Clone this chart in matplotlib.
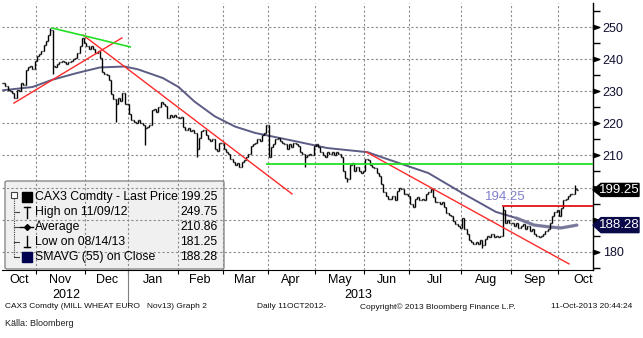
import numpy as np
import matplotlib.pyplot as plt
import matplotlib.transforms as mtransforms
from matplotlib.collections import LineCollection
from matplotlib.patches import Rectangle, Polygon, FancyBboxPatch
from matplotlib.lines import Line2D
from matplotlib.path import Path

plt.rcParams['font.family'] = ['Liberation Sans', 'DejaVu Sans']

W, H = 643, 338

# months on the axis and trading days in each (11 Oct 2012 - 11 Oct 2013)
month_names = ['Oct', 'Nov', 'Dec', 'Jan', 'Feb', 'Mar', 'Apr', 'May', 'Jun', 'Jul', 'Aug', 'Sep', 'Oct']
month_days = [15, 22, 19, 22, 20, 20, 21, 22, 20, 23, 22, 21, 9]
year_labels = ['2012', '2013']

# daily closes, EUR/t
close_oct12 = [232.5, 231.5, 230.5, 230.0, 229.5, 228.0, 230.5, 230.0, 232.5, 232.0,
               236.5, 237.5, 238.0, 237.0, 239.5]
close_nov12 = [241.0, 241.5, 242.5, 244.5, 245.5, 247.5, 249.0, 238.0, 237.5, 238.5,
               239.0, 239.5, 239.0, 238.5, 239.0, 239.5, 240.0, 240.5, 242.0, 244.0,
               246.5, 245.0]
close_dec12 = [244.0, 243.0, 244.0, 243.0, 242.0, 242.5, 240.5, 236.0, 235.5, 235.0,
               233.5, 229.0, 227.5, 226.0, 228.0, 227.0, 229.5, 226.0, 226.0]
close_jan13 = [223.0, 221.0, 220.5, 220.0, 221.0, 220.0, 219.5, 218.5, 219.0, 219.5,
               224.0, 224.5, 223.5, 225.0, 226.5, 226.0, 225.5, 221.5, 222.5, 222.0,
               222.5, 222.0]
close_feb13 = [221.5, 222.0, 219.0, 218.0, 218.5, 217.5, 218.0, 217.0, 212.0, 215.5,
               217.5, 218.0, 216.5, 215.0, 214.5, 215.0, 212.0, 211.5, 214.0, 214.0]
close_mar13 = [212.0, 211.0, 210.5, 209.0, 208.0, 207.0, 207.5, 206.5, 208.0, 208.5,
               209.5, 210.5, 213.0, 213.5, 214.0, 215.0, 214.5, 216.5, 217.0, 219.5]
close_apr13 = [209.5, 212.5, 213.5, 215.0, 215.5, 214.5, 214.0, 213.5, 212.0, 213.5,
               212.5, 214.0, 213.5, 213.0, 211.0, 210.5, 209.5, 210.0, 210.5, 210.0,
               213.0]
close_may13 = [213.5, 212.5, 211.0, 210.0, 209.5, 211.0, 210.5, 211.0, 210.0, 211.0,
               210.5, 209.5, 205.0, 203.0, 202.5, 207.0, 207.5, 205.0, 206.5, 205.0,
               204.5, 205.0]
close_jun13 = [209.0, 208.5, 207.0, 206.5, 206.0, 204.5, 203.5, 201.0, 198.5, 197.5,
               196.5, 196.5, 197.5, 196.0, 199.0, 200.0, 199.5, 198.0, 198.0, 197.5]
close_jul13 = [195.0, 194.0, 196.5, 197.0, 196.0, 196.5, 196.0, 198.0, 198.5, 199.5,
               197.0, 195.5, 195.5, 195.0, 195.5, 194.0, 192.0, 191.5, 191.0, 189.5,
               188.5, 188.0, 187.5]
close_aug13 = [190.5, 187.0, 185.5, 183.5, 183.0, 182.5, 183.0, 182.5, 183.5, 182.0,
               184.0, 185.0, 184.5, 185.5, 184.5, 185.0, 184.5, 185.0, 193.0, 189.0,
               190.0, 189.0]
close_sep13 = [189.0, 188.0, 189.0, 187.5, 188.0, 188.5, 187.0, 188.0, 186.5, 187.0,
               185.5, 185.0, 184.5, 185.0, 185.5, 186.5, 187.0, 189.0, 191.0, 192.5,
               193.0]
close_oct13 = [191.0, 193.5, 196.0, 196.5, 197.5, 198.0, 198.0, 199.5, 199.25]

closes = np.array(close_oct12 + close_nov12 + close_dec12 + close_jan13 + close_feb13
                  + close_mar13 + close_apr13 + close_may13 + close_jun13 + close_jul13
                  + close_aug13 + close_sep13 + close_oct13)

# intraday extremes that stick out of the open/close range
wick_day = [21, 22, 50, 63, 86, 134, 153, 213, 222, 254]
wick_val = [249.75, 235.5, 220.5, 213.2, 209.5, 206.4, 201.7, 181.25, 194.25, 200.8]

# 55-day simple moving average (trading day, value)
sma_day = [0, 13, 22, 33, 43, 54, 60, 71, 78, 85, 94, 103, 112, 121, 130, 144, 162,
           168, 176, 189, 204, 219, 228, 236, 243, 248, 255]
sma_val = [230.3, 231.3, 233.6, 235.7, 237.4, 237.7, 236.8, 234.1, 231.3, 226.8, 222.2,
           219.0, 217.0, 215.7, 214.4, 212.3, 211.0, 209.5, 207.6, 204.5, 198.3, 192.4,
           190.5, 188.3, 187.7, 187.4, 188.28]

# hand-drawn trend lines: (day0, value0, day1, value1)
red_trends = [(4.8, 226.3, 52.8, 246.6),
              (35.5, 247.5, 128.4, 198.0),
              (161.3, 211.1, 251.5, 176.2)]
green_trends = [(21.7, 249.7, 56.5, 243.8)]
support_start, support_level = 117.3, 207.25
resist_start, resist_level = 222.2, 194.25

last_price = 199.25
sma_last = 188.28
legend_rows = [('CAX3 Comdty - Last Price', '199.25'),
               ('High on 11/09/12', '249.75'),
               ('Average', '210.86'),
               ('Low on 08/14/13', '181.25'),
               ('SMAVG (55) on Close', '188.28')]

fig = plt.figure(figsize=(W / 100, H / 100), dpi=100)
ax = fig.add_axes([2 / W, 1 - 270 / H, 591 / W, 267 / H])
ax.set_facecolor('none')
ax.set_xlim(-0.5, -0.5 + 591 / 2.25)
ax.set_ylim(174.3, 257.48)


def px(x, y):
    return x / W, 1 - y / H


# month boundaries
bounds = np.cumsum(month_days)[:-1] - 0.5
starts = np.concatenate([[-0.5], bounds])
ends = np.concatenate([bounds, [bounds[-1] + 23]])
centers = (starts + ends) / 2

grid_kw = dict(color='#8c8c8c', lw=0.8, ls=(0, (2, 2)), zorder=1)
for b in bounds:
    ax.axvline(b, **grid_kw)
for v in range(180, 251, 10):
    ax.axhline(v, **grid_kw)

# OHLC-style bars
opens = np.concatenate([[closes[0]], closes[:-1]])
lo = np.minimum(opens, closes)
hi = np.maximum(opens, closes)
for d, v in zip(wick_day, wick_val):
    lo[d] = min(lo[d], v)
    hi[d] = max(hi[d], v)
idx = np.arange(len(closes))
segs = []
for i in idx:
    segs.append([(i, lo[i]), (i, hi[i])])
    segs.append([(i - 0.45, opens[i]), (i, opens[i])])
    segs.append([(i, closes[i]), (i + 0.45, closes[i])])
ax.add_collection(LineCollection(segs, colors='black', linewidths=1.0, zorder=4))

# moving average
ax.plot(sma_day, sma_val, color='#4a4a78', lw=1.4, alpha=0.9, zorder=3)
ax.plot(sma_day[-5:], sma_val[-5:], color='#7a7a9c', lw=2.4, alpha=0.85, zorder=3,
        solid_capstyle='round')

# trend lines
for d0, v0, d1, v1 in red_trends:
    ax.plot([d0, d1], [v0, v1], color='#ff2a2a', lw=1.0, zorder=5)
for d0, v0, d1, v1 in green_trends:
    ax.plot([d0, d1], [v0, v1], color='#22e022', lw=1.2, zorder=5)
xmax = ax.get_xlim()[1]
ax.plot([support_start, xmax], [support_level] * 2, color='#22e022', lw=1.3, zorder=5)
ax.plot([resist_start, xmax], [resist_level] * 2, color='#e00000', lw=1.2, zorder=5)
ax.text(resist_start + 1.1, resist_level + 2.8, f'{resist_level:.2f}', color='#8080cc',
        fontsize=9.5, ha='center', va='center', zorder=6)

# spines
for s in ['left', 'top']:
    ax.spines[s].set_visible(False)
ax.spines['right'].set_linewidth(1.0)
ax.spines['bottom'].set_linewidth(0.8)

# right value axis; 190 and 200 sit under the price tags
yticks = list(range(180, 251, 10))
ax.yaxis.tick_right()
ax.set_yticks(yticks)
ax.set_yticklabels(['' if v in (190, 200) else str(v) for v in yticks])
ax.set_yticks(range(175, 256, 10), minor=True)
ax.tick_params(axis='y', which='major', length=0, pad=7, labelsize=9,
               labelcolor='#101030')
ax.tick_params(axis='y', which='minor', length=5, width=1.0, direction='out')
tri = Path([(0, -0.35), (0, 0.35), (1, 0), (0, -0.35)])
yblend = mtransforms.blended_transform_factory(ax.transAxes, ax.transData)
ax.plot([1.0] * len(yticks), yticks, ls='none', marker=tri, ms=9, color='black',
        transform=yblend, clip_on=False, zorder=6)

# time axis
ax.set_xticks(bounds)
ax.set_xticks(centers, minor=True)
ax.set_xticklabels([], minor=False)
ax.set_xticklabels(month_names, minor=True)
ax.tick_params(axis='x', which='major', length=3, direction='out')
ax.tick_params(axis='x', which='minor', length=0, pad=3, labelsize=9)
xblend = mtransforms.blended_transform_factory(ax.transData, ax.transAxes)
ax.plot([bounds[2]] * 2, [0, -0.13], color='#808080', lw=0.8, transform=xblend,
        clip_on=False)
ax.text((starts[1] + ends[1]) / 2 + 2.5, -0.07, year_labels[0], transform=xblend,
        ha='center', va='top', fontsize=9)
ax.text((starts[3] + ends[-1]) / 2 - 4.5, -0.07, year_labels[1], transform=xblend,
        ha='center', va='top', fontsize=9)

# price tags on the value axis
for val, col, h in [(last_price, 'black', 6.5), (sma_last, '#0a0a4a', 7.5)]:
    tag = [(0, 0), (8, h), (46, h), (46, -h), (8, -h)]
    tr = mtransforms.IdentityTransform() + mtransforms.ScaledTranslation(1.0, val, yblend)
    ax.add_patch(Polygon(tag, closed=True, fc=col, ec=col, transform=tr,
                         clip_on=False, zorder=8))
    ax.text(26.5, 0, f'{val:.2f}', transform=tr, color='white', fontsize=9.5,
            ha='center', va='center', clip_on=False, zorder=9)

# legend box (sits below the axes so the grid runs across it)
x0, y0 = px(5, 269)
x1, y1 = px(224, 181)
fig.patches.append(FancyBboxPatch((x0, y0), x1 - x0, y1 - y0,
                                  boxstyle='round,pad=0,rounding_size=0.004',
                                  transform=fig.transFigure, fc='#f0f0f0',
                                  ec='#8a8a8a', lw=1.0, zorder=-1))
row_y = [197, 212, 227, 242, 257]
for (label, value), ry in zip(legend_rows, row_y):
    fig.text(*px(35, ry), label, fontsize=8.8, va='center', ha='left', zorder=5)
    fig.text(*px(217.5, ry), value, fontsize=8.8, va='center', ha='right', zorder=5)

tree = dict(color='#404040', lw=0.8, transform=fig.transFigure, zorder=5)
fig.add_artist(Line2D(*zip(px(14, 198), px(14, 257)), ls=(0, (1, 1)), **tree))
for ry in row_y[1:]:
    fig.add_artist(Line2D(*zip(px(14, ry), px(19, ry)), **tree))
fig.add_artist(Rectangle(px(11, 198), 6 / W, 6 / H, transform=fig.transFigure,
                         fc='white', ec='#404040', lw=0.8, zorder=6))
fig.add_artist(Line2D(*zip(px(12.5, 195), px(15.5, 195)), **tree))
fig.add_artist(Rectangle(px(22, 202), 10 / W, 10 / H, transform=fig.transFigure,
                         fc='black', ec='black', zorder=6))
fig.add_artist(Rectangle(px(22, 262), 10 / W, 10 / H, transform=fig.transFigure,
                         fc='#000050', ec='#000050', zorder=6))
icon = dict(color='black', lw=1.0, transform=fig.transFigure, zorder=6)
fig.add_artist(Line2D(*zip(px(27, 207), px(27, 218)), **icon))
fig.add_artist(Line2D(*zip(px(24, 207), px(30, 207)), **icon))
fig.add_artist(Line2D(*zip(px(20, 227), px(33, 227)), **icon))
fig.add_artist(Line2D([px(26.5, 227)[0]], [px(26.5, 227)[1]], marker='D', ms=3,
                      color='black', transform=fig.transFigure, zorder=6))
fig.add_artist(Line2D(*zip(px(27, 236), px(27, 247)), **icon))
fig.add_artist(Line2D(*zip(px(24, 247), px(30, 247)), **icon))

# footer
foot = dict(fontsize=6, va='center', ha='left', color='#101010')
fig.text(*px(5, 307), 'CAX3 Comdty (MILL WHEAT EURO   Nov13) Graph 2', **foot)
fig.text(*px(257, 307), 'Daily 11OCT2012-', **foot)
fig.text(*px(360, 307), 'Copyright\u00a9 2013 Bloomberg Finance L.P.', **foot)
fig.text(*px(551, 307), '11-Oct-2013 20:44:24', **foot)
fig.text(*px(5, 324), 'K\u00e4lla: Bloomberg', fontsize=6.5, va='center', ha='left',
         color='#202020')

fig.savefig('out.png', dpi=100, facecolor='white')
